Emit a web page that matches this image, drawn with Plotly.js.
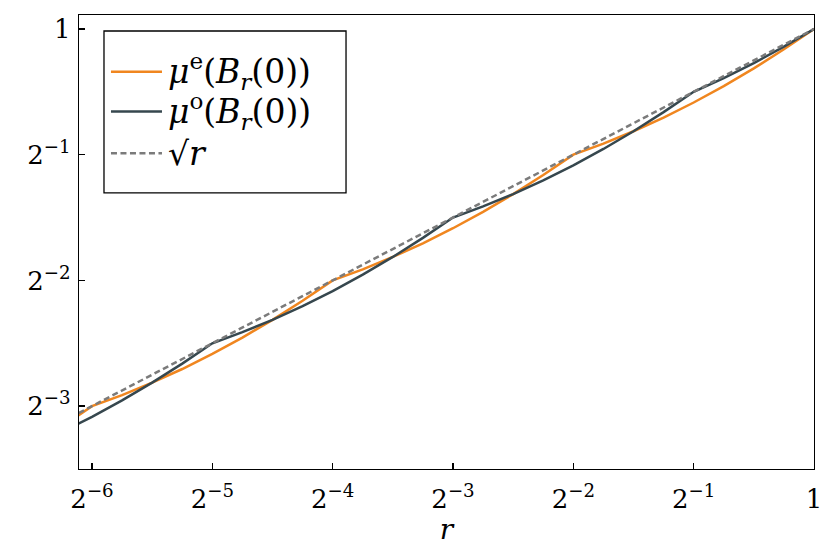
<!DOCTYPE html>
<html>
<head>
<meta charset="utf-8">
<script src="https://cdn.plot.ly/plotly-3.0.1.min.js"></script>
<style>
  html, body { margin: 0; padding: 0; background: #ffffff; }
  #chart { width: 830px; height: 554px; }
</style>
</head>
<body>
<div id="chart"></div>
<script>
// r values, given as base-2 exponents (r = 2^e)
const rLog2 = [-6.25, -6, -5.75, -5.5, -5.25, -5, -4.75, -4.5, -4.25, -4,
  -3.75, -3.5, -3.25, -3, -2.75, -2.5, -2.25, -2, -1.75, -1.5, -1.25, -1,
  -0.75, -0.5, -0.25, 0];

// mu^e(B_r(0)) as base-2 exponents
const muELog2 = [-3.1618, -3, -2.9118, -2.8135, -2.7046, -2.585, -2.4546,
  -2.3134, -2.1618, -2, -1.9118, -1.8135, -1.7046, -1.585, -1.4546, -1.3134,
  -1.1618, -1, -0.9118, -0.8135, -0.7046, -0.585, -0.4546, -0.3134, -0.1618, 0];

// mu^o(B_r(0)) as base-2 exponents
const muOLog2 = [-3.2046, -3.085, -2.9546, -2.8134, -2.6618, -2.5, -2.4118,
  -2.3135, -2.2046, -2.085, -1.9546, -1.8134, -1.6618, -1.5, -1.4118, -1.3135,
  -1.2046, -1.085, -0.9546, -0.8134, -0.6618, -0.5, -0.3912, -0.2716, -0.1411, 0];

// sqrt(r) as base-2 exponents
const sqrtLog2 = [-3.125, -3, -2.875, -2.75, -2.625, -2.5, -2.375, -2.25,
  -2.125, -2, -1.875, -1.75, -1.625, -1.5, -1.375, -1.25, -1.125, -1, -0.875,
  -0.75, -0.625, -0.5, -0.375, -0.25, -0.125, 0];

const seriesNames = [
  '<i>μ</i><sup>e</sup>(<i>B</i><sub><i>r</i></sub>(0))',
  '<i>μ</i><sup>o</sup>(<i>B</i><sub><i>r</i></sub>(0))',
  '√<i>r</i>'
];
const seriesColors = ['#f0861f', '#36474e', '#7b7b7b'];
const seriesDash = ['solid', 'solid', '6px,3.5px'];

const xTickExp = [-6, -5, -4, -3, -2, -1, 0];
const xTickText = ['2<sup>−6</sup>', '2<sup>−5</sup>', '2<sup>−4</sup>', '2<sup>−3</sup>',
  '2<sup>−2</sup>', '2<sup>−1</sup>', '1'];
const yTickExp = [-3, -2, -1, 0];
const yTickText = ['2<sup>−3</sup>', '2<sup>−2</sup>', '2<sup>−1</sup>', '1'];

const p2 = a => a.map(e => Math.pow(2, e));
const r = p2(rLog2);
const ys = [p2(muELog2), p2(muOLog2), p2(sqrtLog2)];

const traces = ys.map((y, i) => ({
  x: r, y: y, name: seriesNames[i], mode: 'lines', showlegend: false,
  line: { color: seriesColors[i], width: 2.5, dash: seriesDash[i] }
}));

const L2 = Math.log10(2);
const fontSerif = 'DejaVu Serif';

// hand-built legend box (paper coordinates)
const legRowY = [0.8752, 0.7872, 0.6957];
const shapes = [{
  type: 'rect', xref: 'paper', yref: 'paper',
  x0: 0.034, x1: 0.3633, y0: 0.6084, y1: 0.9648,
  line: { color: '#000000', width: 1.3 }, fillcolor: '#ffffff', layer: 'above'
}];
const annotations = [];
legRowY.forEach((yy, i) => {
  shapes.push({
    type: 'line', xref: 'paper', yref: 'paper', x0: 0.0435, x1: 0.1129, y0: yy, y1: yy,
    line: { color: seriesColors[i], width: 2.5, dash: seriesDash[i] }, layer: 'above'
  });
  annotations.push({
    xref: 'paper', yref: 'paper', x: 0.1190, y: yy, xanchor: 'left', yanchor: 'middle',
    text: seriesNames[i], showarrow: false,
    font: { family: fontSerif, size: 33, color: '#000000' }
  });
});

const layout = {
  width: 830, height: 554,
  margin: { l: 79, r: 16, t: 15, b: 85 },
  paper_bgcolor: '#ffffff', plot_bgcolor: '#ffffff',
  font: { family: fontSerif, size: 26, color: '#000000' },
  showlegend: false,
  shapes: shapes,
  annotations: annotations,
  xaxis: {
    type: 'log',
    range: [-6.108 * L2, 0],
    tickvals: p2(xTickExp), ticktext: xTickText,
    ticks: 'inside', ticklen: 6, tickwidth: 1.3, tickcolor: '#000000',
    showline: true, linecolor: '#000000', linewidth: 1.3, mirror: true,
    showgrid: false, zeroline: false, ticklabelstandoff: 6,
    tickfont: { family: fontSerif, size: 26 },
    title: { text: '<i>r</i>', font: { family: fontSerif, size: 28 }, standoff: 2 }
  },
  yaxis: {
    type: 'log',
    range: [-3.5 * L2, 0.111 * L2],
    tickvals: p2(yTickExp), ticktext: yTickText,
    ticks: 'inside', ticklen: 6, tickwidth: 1.3, tickcolor: '#000000',
    showline: true, linecolor: '#000000', linewidth: 1.3, mirror: true,
    showgrid: false, zeroline: false, ticklabelstandoff: 2,
    tickfont: { family: fontSerif, size: 26 }
  }
};

Plotly.newPlot('chart', traces, layout, { staticPlot: true, displayModeBar: false });
</script>
</body>
</html>
